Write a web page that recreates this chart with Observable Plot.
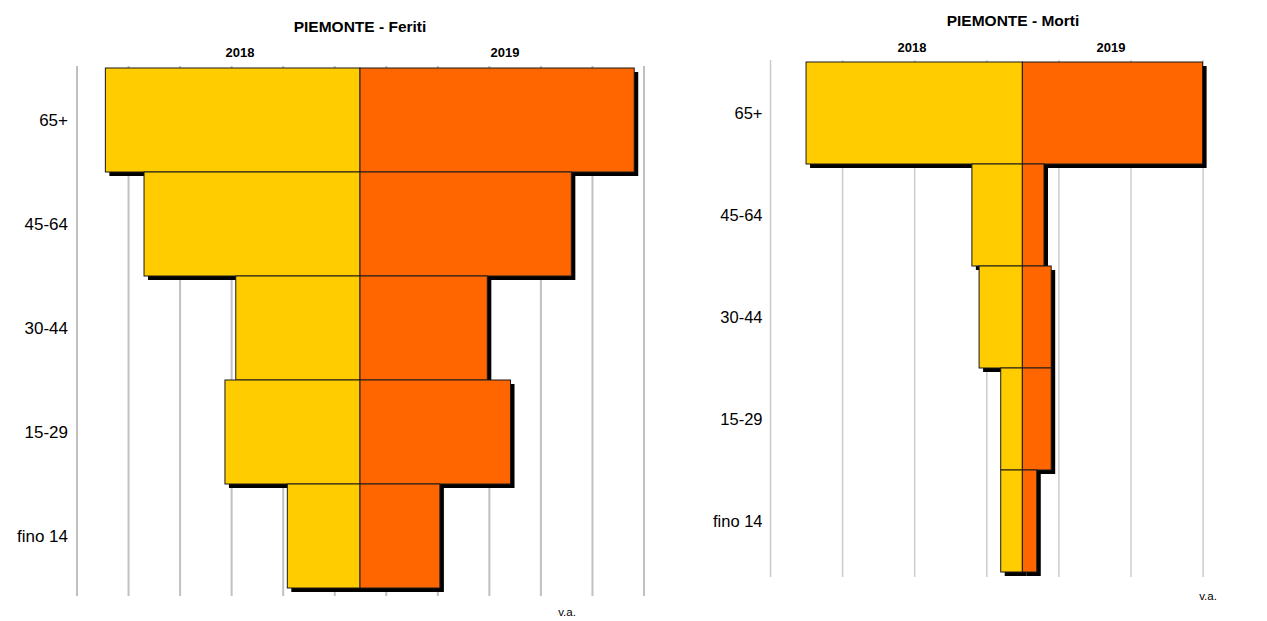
<!DOCTYPE html>
<html>
<head>
<meta charset="utf-8">
<script src="https://cdn.jsdelivr.net/npm/d3@7"></script>
<script src="https://cdn.jsdelivr.net/npm/@observablehq/plot@0.6"></script>
<style>
  html, body { margin: 0; padding: 0; background: white; }
  #page { position: relative; width: 1267px; height: 621px; overflow: hidden; font-family: "Liberation Sans", Arial, sans-serif; color: #000; }
  .panel { position: absolute; top: 0; }
  .lbl { position: absolute; transform: translate(-50%, -50%); white-space: nowrap; line-height: 1; }
  .title { font-weight: bold; font-size: 15.5px; }
  .year { font-weight: bold; font-size: 13px; }
  .unit { font-size: 11.5px; }
</style>
</head>
<body>
<div id="page"></div>
<script>
// ---- data ----
const ageGroups = ["65+", "45-64", "30-44", "15-29", "fino 14"];
const years = ["2018", "2019"];
const feriti2018 = [4940, 4190, 2410, 2620, 1410];
const feriti2019 = [5320, 4100, 2470, 2920, 1550];
const morti2018 = [60, 14, 12, 6, 6];
const morti2019 = [50, 6, 8, 8, 4];
const feritiGrid = [-5500, -4500, -3500, -2500, -1500, -500, 500, 1500, 2500, 3500, 4500, 5500];
const mortiGrid = [-70, -50, -30, -10, 10, 30, 50];
const colors = ["#FFCC00", "#FF6600"];

function rows(v2018, v2019) {
  const out = [];
  ageGroups.forEach((a, i) => {
    out.push({age: a, year: years[0], value: -v2018[i]});
    out.push({age: a, year: years[1], value: v2019[i]});
  });
  return out;
}

function panel(cfg) {
  const data = rows(cfg.v2018, cfg.v2019);
  return Plot.plot({
    width: cfg.width,
    height: 621,
    marginLeft: cfg.ml,
    marginRight: cfg.mr,
    marginTop: cfg.mt,
    marginBottom: cfg.mb,
    style: {fontFamily: "Liberation Sans, Arial, sans-serif", color: "#000", background: "white", overflow: "visible"},
    x: {domain: cfg.domain, axis: null},
    y: {domain: ageGroups, padding: 0, insetBottom: cfg.insetBottom, label: null},
    color: {domain: years, range: colors},
    marks: [
      Plot.ruleX(cfg.grid, {stroke: cfg.gridColor, strokeWidth: cfg.gridWidth}),
      Plot.barX(data, {x1: 0, x2: "value", y: "age", fill: "#000", dx: 4, dy: 4}),
      Plot.barX(data, {x1: 0, x2: "value", y: "age", fill: "year", stroke: "#1a1a1a", strokeWidth: 1}),
      Plot.axisY({tickSize: 0, tickPadding: cfg.tickPadding, fontSize: cfg.fontSize, label: null, fill: "#000"})
    ]
  });
}

const page = document.getElementById("page");

const left = panel({
  width: 660, ml: 76.5, mr: 16.5, mt: 66, mb: 25, insetBottom: 6,
  domain: [-5500, 5500], grid: feritiGrid, gridColor: "#c0c0c0", gridWidth: 2,
  v2018: feriti2018, v2019: feriti2019, tickPadding: 9, fontSize: 17
});
const leftDiv = document.createElement("div");
leftDiv.className = "panel"; leftDiv.style.left = "0px";
leftDiv.appendChild(left);
page.appendChild(leftDiv);

const right = panel({
  width: 577, ml: 80, mr: 64.4, mt: 60, mb: 44, insetBottom: 2.5,
  domain: [-70, 50], grid: mortiGrid, gridColor: "#cccccc", gridWidth: 1.5,
  v2018: morti2018, v2019: morti2019, tickPadding: 8, fontSize: 16.5
});
const rightDiv = document.createElement("div");
rightDiv.className = "panel"; rightDiv.style.left = "690px";
rightDiv.appendChild(right);
page.appendChild(rightDiv);

function label(text, cls, x, y) {
  const d = document.createElement("div");
  d.className = "lbl " + cls;
  d.textContent = text;
  d.style.left = x + "px";
  d.style.top = y + "px";
  page.appendChild(d);
}
label("PIEMONTE - Feriti", "title", 360, 27);
label("2018", "year", 240, 52);
label("2019", "year", 505, 52);
label("v.a.", "unit", 567, 613);
label("PIEMONTE - Morti", "title", 1013, 21);
label("2018", "year", 912, 47);
label("2019", "year", 1111, 47);
label("v.a.", "unit", 1208, 597);
</script>
</body>
</html>
